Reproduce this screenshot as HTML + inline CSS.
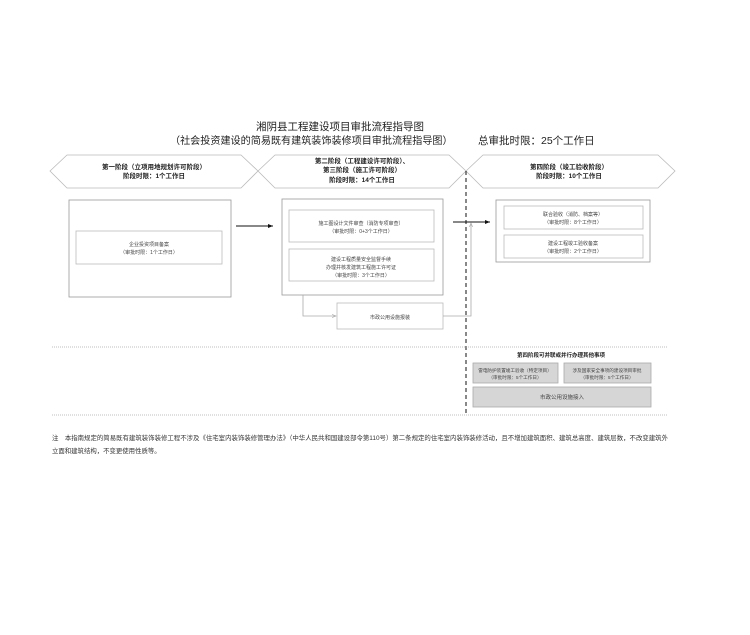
<!DOCTYPE html>
<html><head><meta charset="utf-8"><style>
body{margin:0;background:#fff;}
svg{display:block;}
text{font-family:"Liberation Sans","Noto Sans CJK SC",sans-serif;}
</style></head><body>
<svg width="750" height="635" viewBox="0 0 750 635" xmlns="http://www.w3.org/2000/svg">
<defs>
<marker id="a" markerWidth="6" markerHeight="6" refX="5" refY="3" orient="auto"><path d="M0,1 L5,3 L0,5 Z" fill="#111"/></marker>
<marker id="g" markerWidth="6" markerHeight="6" refX="5" refY="3" orient="auto"><path d="M0,1 L5,3 L0,5" fill="none" stroke="#aaa" stroke-width="0.8"/></marker>
</defs>
<text x="340" y="130" font-size="10.5" text-anchor="middle" fill="#222">湘阴县工程建设项目审批流程指导图</text>
<text x="170" y="144" font-size="10.1" fill="#222">（社会投资建设的简易既有建筑装饰装修项目审批流程指导图）</text>
<text x="478" y="144" font-size="10.5" fill="#222">总审批时限：25个工作日</text>

<g fill="none" stroke="#bbb" stroke-width="0.8">
<polygon points="50,171 67,155 241,155 258,171 241,188 67,188"/>
<polygon points="258,171 275,155 449,155 466,171 449,188 275,188"/>
<polygon points="466,171 483,155 658,155 675,171 658,188 483,188"/>
</g>
<g font-size="6.5" font-weight="bold" text-anchor="middle" fill="#222">
<text x="154" y="169">第一阶段（立项用地规划许可阶段）</text>
<text x="154" y="178">阶段时限：1个工作日</text>
<text x="362" y="163">第二阶段（工程建设许可阶段）、</text>
<text x="362" y="172">第三阶段（施工许可阶段）</text>
<text x="362" y="182">阶段时限：14个工作日</text>
<text x="569" y="169">第四阶段（竣工验收阶段）</text>
<text x="569" y="178">阶段时限：10个工作日</text>
</g>

<g fill="none" stroke="#999" stroke-width="0.8">
<rect x="69" y="200" width="162" height="97"/>
<rect x="282" y="199" width="161" height="96"/>
<rect x="496" y="200" width="154" height="62"/>
</g>
<g fill="#fff" stroke="#bbb" stroke-width="0.8">
<rect x="76" y="231" width="146" height="33"/>
<rect x="289" y="210" width="145" height="32"/>
<rect x="289" y="249" width="145" height="32"/>
<rect x="337" y="303" width="106" height="26"/>
<rect x="504" y="206" width="139" height="23"/>
<rect x="504" y="235" width="139" height="23"/>
</g>
<g font-size="5" text-anchor="middle" fill="#444">
<text x="149" y="246">企业投资项目备案</text>
<text x="149" y="254">（审批时限：1个工作日）</text>
<text x="361" y="225">施工图设计文件审查（消防专项审查）</text>
<text x="361" y="233">（审批时限：0+3个工作日）</text>
<text x="361" y="261">建设工程质量安全监督手续</text>
<text x="361" y="269">办理并核发建筑工程施工许可证</text>
<text x="361" y="277">（审批时限：3个工作日）</text>
<text x="390" y="319">市政公用设施报装</text>
<text x="573" y="216">联合验收（消防、档案等）</text>
<text x="573" y="224">（审批时限：8个工作日）</text>
<text x="573" y="245">建设工程竣工验收备案</text>
<text x="573" y="253">（审批时限：2个工作日）</text>
</g>

<line x1="236" y1="226" x2="273" y2="226" stroke="#111" stroke-width="1" marker-end="url(#a)"/>
<line x1="453" y1="222" x2="490" y2="222" stroke="#111" stroke-width="1" marker-end="url(#a)"/>
<polyline points="303,295 303,316 336,316" fill="none" stroke="#aaa" stroke-width="0.8" marker-end="url(#g)"/>
<polyline points="443,316 471,316 471,223" fill="none" stroke="#aaa" stroke-width="0.8" marker-end="url(#g)"/>
<line x1="466" y1="171" x2="466" y2="414" stroke="#111" stroke-width="1" stroke-dasharray="4,3"/>

<line x1="52" y1="347" x2="668" y2="347" stroke="#aaa" stroke-width="0.8" stroke-dasharray="1,1"/>
<line x1="52" y1="415" x2="668" y2="415" stroke="#aaa" stroke-width="0.8" stroke-dasharray="1,1"/>
<text x="561" y="357" font-size="5.5" font-weight="bold" text-anchor="middle" fill="#222">第四阶段可并联或并行办理其他事项</text>
<g fill="#d6d6d6" stroke="#aaa" stroke-width="0.8">
<rect x="473" y="363" width="85" height="20"/>
<rect x="564" y="363" width="87" height="20"/>
<rect x="473" y="387" width="178" height="20"/>
</g>
<g font-size="4.6" text-anchor="middle" fill="#444">
<text x="515" y="372">雷电防护装置竣工验收（特定项目）</text>
<text x="515" y="379">（审批时限：5个工作日）</text>
<text x="607" y="372">涉及国家安全事项的建设项目审批</text>
<text x="607" y="379">（审批时限：5个工作日）</text>
<text x="562" y="399" font-size="5.5">市政公用设施接入</text>
</g>

<text x="52" y="440" font-size="6.4" fill="#333" textLength="616" lengthAdjust="spacingAndGlyphs">注　本指南规定的简易既有建筑装饰装修工程不涉及《住宅室内装饰装修管理办法》（中华人民共和国建设部令第110号）第二条规定的住宅室内装饰装修活动，且不增加建筑面积、建筑总高度、建筑层数，不改变建筑外</text>
<text x="52" y="453" font-size="6.4" fill="#333">立面和建筑结构，不变更使用性质等。</text>
</svg>
</body></html>
